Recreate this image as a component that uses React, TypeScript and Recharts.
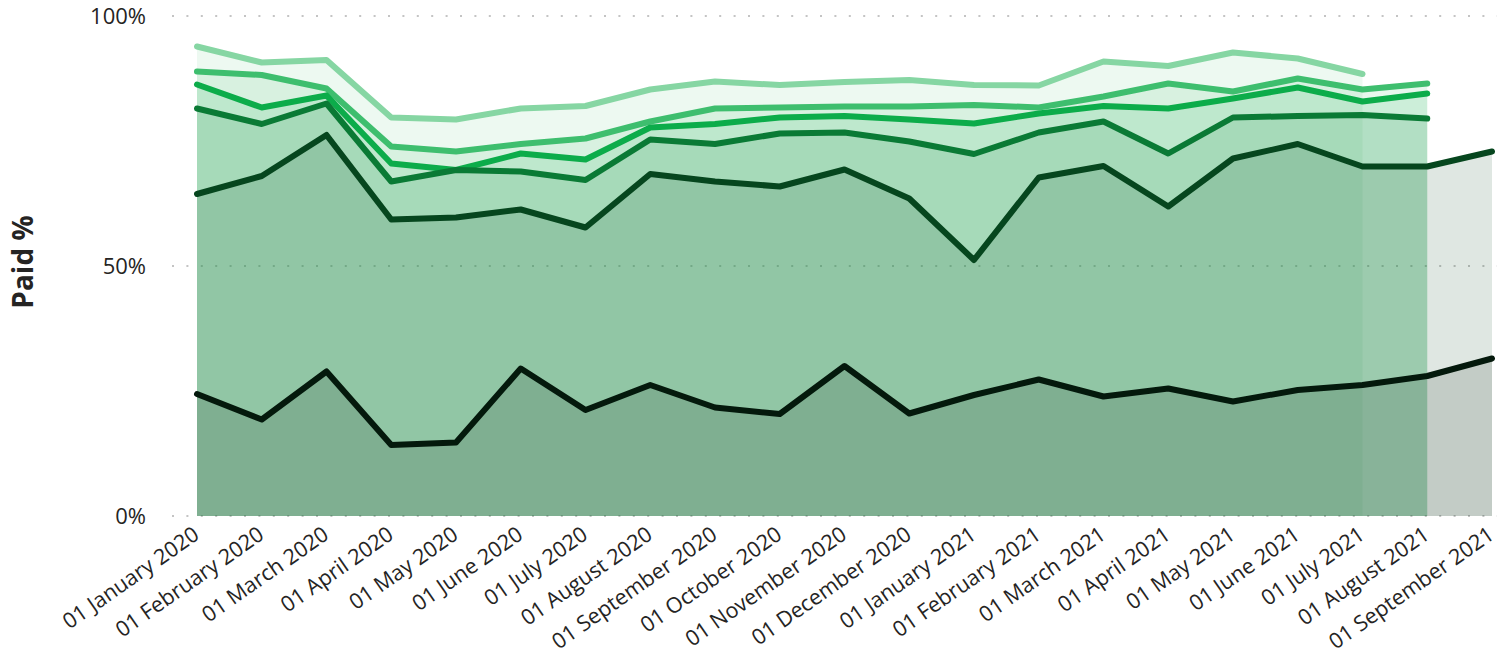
import React from 'react';
import { ComposedChart, Area, Line, XAxis, YAxis, CartesianGrid } from 'recharts';

// Month-start categories on the x axis
const months = [
  '01 January 2020', '01 February 2020', '01 March 2020', '01 April 2020', '01 May 2020',
  '01 June 2020', '01 July 2020', '01 August 2020', '01 September 2020', '01 October 2020',
  '01 November 2020', '01 December 2020', '01 January 2021', '01 February 2021', '01 March 2021',
  '01 April 2021', '01 May 2021', '01 June 2021', '01 July 2021', '01 August 2021',
  '01 September 2021',
];

// Paid % per series, darkest (lowest) to lightest (highest); null = no data yet
const paid1 = [24.4, 19.3, 28.9, 14.2, 14.7, 29.5, 21.2, 26.2, 21.7, 20.4, 30.0, 20.5, 24.2, 27.3, 23.9, 25.5, 22.9, 25.2, 26.2, 28.0, 31.5];
const paid2 = [64.4, 68.0, 76.2, 59.3, 59.7, 61.3, 57.7, 68.4, 66.9, 65.9, 69.3, 63.5, 51.2, 67.7, 70.0, 61.9, 71.5, 74.4, 69.9, 69.9, 72.9];
const paid3 = [81.5, 78.4, 82.5, 66.9, 69.2, 68.9, 67.2, 75.3, 74.4, 76.5, 76.7, 74.9, 72.4, 76.7, 78.9, 72.5, 79.7, 80.0, 80.2, 79.5, null];
const paid4 = [86.3, 81.7, 84.1, 70.5, 69.2, 72.5, 71.3, 77.7, 78.4, 79.7, 80.0, 79.3, 78.5, 80.5, 82.0, 81.5, 83.5, 85.7, 82.9, 84.5, null];
const paid5 = [88.9, 88.2, 85.5, 73.9, 72.9, 74.4, 75.5, 78.9, 81.5, 81.7, 81.9, 81.9, 82.2, 81.7, 83.9, 86.5, 84.9, 87.5, 85.3, 86.5, null];
const paid6 = [93.9, 90.7, 91.2, 79.7, 79.3, 81.5, 82.0, 85.3, 86.9, 86.2, 86.8, 87.2, 86.2, 86.1, 90.9, 90.0, 92.7, 91.5, 88.4, null, null];

const yTicks = [0, 50, 100];

const data = months.map((month, i) => ({
  month,
  p1: paid1[i],
  p2: paid2[i],
  p3: paid3[i],
  p4: paid4[i],
  p5: paid5[i],
  p6: paid6[i],
}));

// Lightest first so the darker series end up on top
const series = [
  { key: 'p6', color: '#86d6a3', fillOpacity: 0.15 },
  { key: 'p5', color: '#3ebe6e', fillOpacity: 0.12 },
  { key: 'p4', color: '#0cac4a', fillOpacity: 0.12 },
  { key: 'p3', color: '#0a7a35', fillOpacity: 0.13 },
  { key: 'p2', color: '#06461e', fillOpacity: 0.13 },
  { key: 'p1', color: '#04190c', fillOpacity: 0.13 },
];

const font = '"Segoe UI", "Open Sans", sans-serif';
const textColor = '#252423';

// Rotated month label, right end pinned just left of the tick position
const MonthTick = (props: any) => {
  const { x, y, payload } = props;
  return (
    <g transform={`translate(${x},${y})`}>
      <text
        x={-6}
        y={0}
        dy={15}
        textAnchor="end"
        transform="rotate(-35)"
        fontFamily={font}
        fontSize={21.5}
        fill={textColor}
      >
        {payload.value}
      </text>
    </g>
  );
};

export default function App() {
  return (
    <div style={{ position: 'fixed', left: 0, top: 0, width: 1500, height: 657, background: '#fff' }}>
      <div
        style={{
          position: 'absolute',
          left: 22,
          top: 262,
          transform: 'translate(-50%, -50%) rotate(-90deg)',
          fontFamily: font,
          fontWeight: 700,
          fontSize: 28,
          color: textColor,
          whiteSpace: 'nowrap',
        }}
      >
        Paid %
      </div>
      <ComposedChart
        width={1500}
        height={657}
        data={data}
        margin={{ top: 16, right: 3, left: 72, bottom: 0 }}
      >
        <CartesianGrid
          vertical={false}
          stroke="#c4c4c4"
          strokeWidth={2}
          strokeDasharray="2 12.4"
        />
        <XAxis
          dataKey="month"
          type="category"
          scale="point"
          interval={0}
          padding={{ left: 25, right: 5 }}
          axisLine={false}
          tickLine={false}
          tickSize={0}
          tickMargin={6}
          height={141}
          tick={<MonthTick />}
        />
        <YAxis
          type="number"
          domain={[0, 100]}
          ticks={yTicks}
          width={100}
          axisLine={false}
          tickLine={false}
          tickMargin={20}
          tickFormatter={(v: number) => `${v}%`}
          tick={{ fontSize: 22, fill: textColor, fontFamily: font }}
        />
        {series.map((s) => (
          <Area
            key={`a-${s.key}`}
            type="linear"
            dataKey={s.key}
            stroke="none"
            fill={s.color}
            fillOpacity={s.fillOpacity}
            isAnimationActive={false}
            activeDot={false}
          />
        ))}
        {series.map((s) => (
          <Line
            key={`l-${s.key}`}
            type="linear"
            dataKey={s.key}
            stroke={s.color}
            strokeWidth={6}
            strokeLinecap="round"
            strokeLinejoin="round"
            dot={false}
            activeDot={false}
            isAnimationActive={false}
          />
        ))}
      </ComposedChart>
    </div>
  );
}
